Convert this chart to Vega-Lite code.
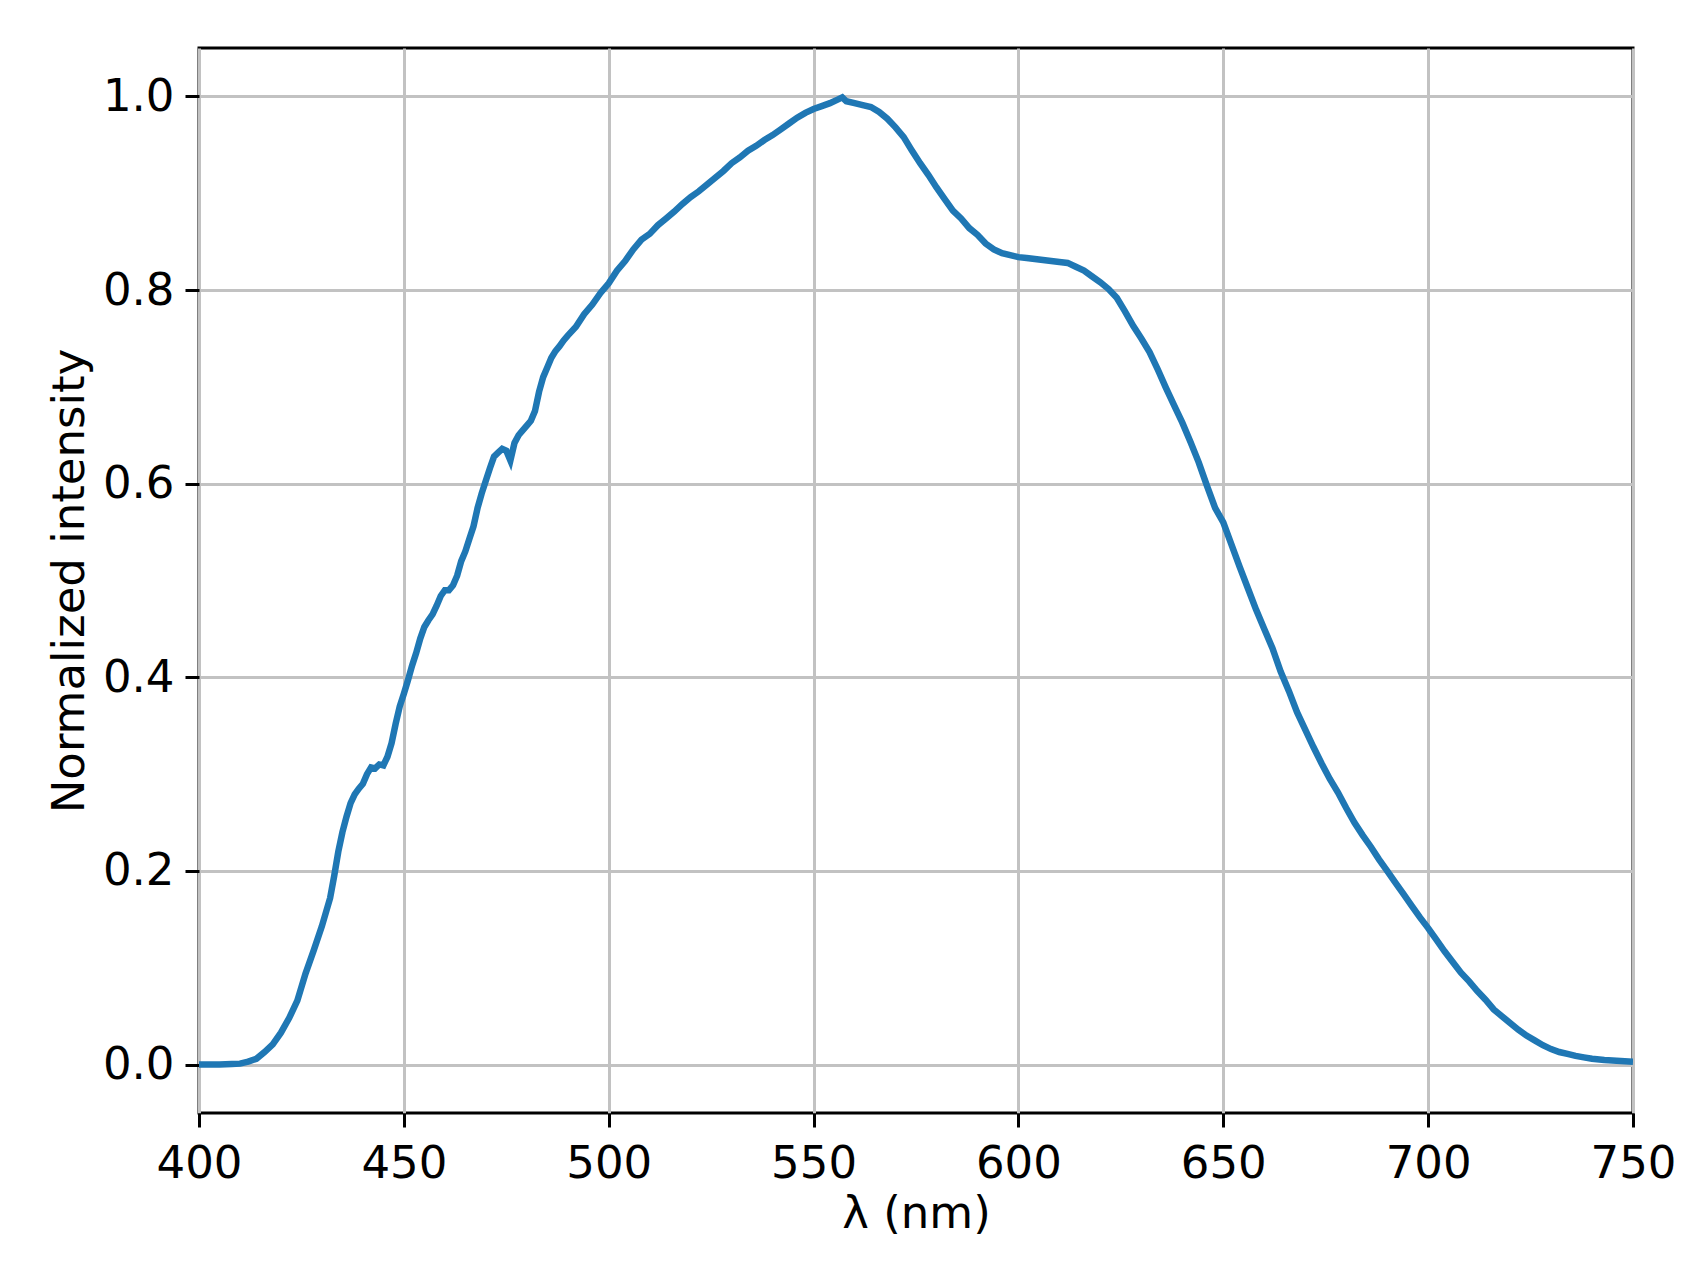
{
  "$schema": "https://vega.github.io/schema/vega-lite/v6.json",
  "width": 1434,
  "height": 1065,
  "autosize": {"type": "none"},
  "padding": {"left": 199, "top": 48, "right": 70, "bottom": 173},
  "background": "white",
  "data": {
    "values": [
      {"wl": 400, "I": 0.0}, {"wl": 405, "I": 0.0}, {"wl": 408, "I": 0.0005}, {"wl": 410, "I": 0.001},
      {"wl": 412, "I": 0.003}, {"wl": 414, "I": 0.006}, {"wl": 416, "I": 0.013}, {"wl": 418, "I": 0.021},
      {"wl": 420, "I": 0.033}, {"wl": 422, "I": 0.048}, {"wl": 424, "I": 0.066}, {"wl": 426, "I": 0.094},
      {"wl": 428, "I": 0.118}, {"wl": 430, "I": 0.143}, {"wl": 432, "I": 0.172}, {"wl": 433, "I": 0.195},
      {"wl": 434, "I": 0.22}, {"wl": 435, "I": 0.24}, {"wl": 436, "I": 0.256}, {"wl": 437, "I": 0.27},
      {"wl": 438, "I": 0.279}, {"wl": 439, "I": 0.285}, {"wl": 440, "I": 0.29}, {"wl": 441, "I": 0.3},
      {"wl": 442, "I": 0.307}, {"wl": 443, "I": 0.306}, {"wl": 444, "I": 0.31}, {"wl": 445, "I": 0.309},
      {"wl": 446, "I": 0.318}, {"wl": 447, "I": 0.332}, {"wl": 448, "I": 0.352}, {"wl": 449, "I": 0.37},
      {"wl": 450, "I": 0.383}, {"wl": 451, "I": 0.397}, {"wl": 452, "I": 0.412}, {"wl": 453, "I": 0.425},
      {"wl": 454, "I": 0.44}, {"wl": 455, "I": 0.452}, {"wl": 456, "I": 0.459}, {"wl": 457, "I": 0.465},
      {"wl": 458, "I": 0.474}, {"wl": 459, "I": 0.484}, {"wl": 460, "I": 0.49}, {"wl": 461, "I": 0.49},
      {"wl": 462, "I": 0.495}, {"wl": 463, "I": 0.505}, {"wl": 464, "I": 0.52}, {"wl": 465, "I": 0.53},
      {"wl": 466, "I": 0.543}, {"wl": 467, "I": 0.556}, {"wl": 468, "I": 0.575}, {"wl": 469, "I": 0.59},
      {"wl": 470, "I": 0.603}, {"wl": 471, "I": 0.616}, {"wl": 472, "I": 0.628}, {"wl": 473, "I": 0.632},
      {"wl": 474, "I": 0.636}, {"wl": 475, "I": 0.634}, {"wl": 476, "I": 0.624}, {"wl": 477, "I": 0.642},
      {"wl": 478, "I": 0.65}, {"wl": 479, "I": 0.655}, {"wl": 480, "I": 0.66}, {"wl": 481, "I": 0.665},
      {"wl": 482, "I": 0.675}, {"wl": 483, "I": 0.695}, {"wl": 484, "I": 0.71}, {"wl": 485, "I": 0.72},
      {"wl": 486, "I": 0.73}, {"wl": 487, "I": 0.737}, {"wl": 488, "I": 0.742}, {"wl": 489, "I": 0.748},
      {"wl": 490, "I": 0.753}, {"wl": 492, "I": 0.762}, {"wl": 494, "I": 0.775}, {"wl": 496, "I": 0.785},
      {"wl": 498, "I": 0.797}, {"wl": 500, "I": 0.807}, {"wl": 502, "I": 0.82}, {"wl": 504, "I": 0.83},
      {"wl": 506, "I": 0.842}, {"wl": 508, "I": 0.852}, {"wl": 510, "I": 0.858}, {"wl": 512, "I": 0.867},
      {"wl": 514, "I": 0.874}, {"wl": 516, "I": 0.881}, {"wl": 518, "I": 0.889}, {"wl": 520, "I": 0.896},
      {"wl": 522, "I": 0.902}, {"wl": 524, "I": 0.909}, {"wl": 526, "I": 0.916}, {"wl": 528, "I": 0.923},
      {"wl": 530, "I": 0.931}, {"wl": 532, "I": 0.937}, {"wl": 534, "I": 0.944}, {"wl": 536, "I": 0.949},
      {"wl": 538, "I": 0.955}, {"wl": 540, "I": 0.96}, {"wl": 542, "I": 0.966}, {"wl": 544, "I": 0.972},
      {"wl": 546, "I": 0.978}, {"wl": 548, "I": 0.983}, {"wl": 550, "I": 0.987}, {"wl": 552, "I": 0.99},
      {"wl": 554, "I": 0.993}, {"wl": 556, "I": 0.997}, {"wl": 557, "I": 0.999}, {"wl": 558, "I": 0.995},
      {"wl": 560, "I": 0.993}, {"wl": 562, "I": 0.991}, {"wl": 564, "I": 0.989}, {"wl": 566, "I": 0.984},
      {"wl": 568, "I": 0.977}, {"wl": 570, "I": 0.968}, {"wl": 572, "I": 0.958}, {"wl": 574, "I": 0.944},
      {"wl": 576, "I": 0.931}, {"wl": 578, "I": 0.919}, {"wl": 580, "I": 0.906}, {"wl": 582, "I": 0.894},
      {"wl": 584, "I": 0.882}, {"wl": 586, "I": 0.874}, {"wl": 588, "I": 0.864}, {"wl": 590, "I": 0.857},
      {"wl": 592, "I": 0.848}, {"wl": 594, "I": 0.842}, {"wl": 596, "I": 0.838}, {"wl": 598, "I": 0.836},
      {"wl": 600, "I": 0.834}, {"wl": 602, "I": 0.833}, {"wl": 604, "I": 0.832}, {"wl": 606, "I": 0.831},
      {"wl": 608, "I": 0.83}, {"wl": 610, "I": 0.829}, {"wl": 612, "I": 0.828}, {"wl": 614, "I": 0.824},
      {"wl": 616, "I": 0.82}, {"wl": 618, "I": 0.814}, {"wl": 620, "I": 0.808}, {"wl": 622, "I": 0.801},
      {"wl": 624, "I": 0.792}, {"wl": 626, "I": 0.778}, {"wl": 628, "I": 0.763}, {"wl": 630, "I": 0.75},
      {"wl": 632, "I": 0.736}, {"wl": 634, "I": 0.718}, {"wl": 636, "I": 0.699}, {"wl": 638, "I": 0.681},
      {"wl": 640, "I": 0.663}, {"wl": 642, "I": 0.643}, {"wl": 644, "I": 0.622}, {"wl": 646, "I": 0.598},
      {"wl": 648, "I": 0.575}, {"wl": 650, "I": 0.56}, {"wl": 652, "I": 0.537}, {"wl": 654, "I": 0.514},
      {"wl": 656, "I": 0.492}, {"wl": 658, "I": 0.47}, {"wl": 660, "I": 0.45}, {"wl": 662, "I": 0.43},
      {"wl": 664, "I": 0.406}, {"wl": 666, "I": 0.386}, {"wl": 668, "I": 0.364}, {"wl": 670, "I": 0.346},
      {"wl": 672, "I": 0.328}, {"wl": 674, "I": 0.311}, {"wl": 676, "I": 0.295}, {"wl": 678, "I": 0.281},
      {"wl": 680, "I": 0.265}, {"wl": 682, "I": 0.25}, {"wl": 684, "I": 0.237}, {"wl": 686, "I": 0.225},
      {"wl": 688, "I": 0.212}, {"wl": 690, "I": 0.2}, {"wl": 692, "I": 0.188}, {"wl": 694, "I": 0.176},
      {"wl": 696, "I": 0.164}, {"wl": 698, "I": 0.152}, {"wl": 700, "I": 0.141}, {"wl": 702, "I": 0.129},
      {"wl": 704, "I": 0.117}, {"wl": 706, "I": 0.106}, {"wl": 708, "I": 0.095}, {"wl": 710, "I": 0.086},
      {"wl": 712, "I": 0.076}, {"wl": 714, "I": 0.067}, {"wl": 716, "I": 0.057}, {"wl": 718, "I": 0.05},
      {"wl": 720, "I": 0.043}, {"wl": 722, "I": 0.036}, {"wl": 724, "I": 0.03}, {"wl": 726, "I": 0.025},
      {"wl": 728, "I": 0.02}, {"wl": 730, "I": 0.016}, {"wl": 732, "I": 0.013}, {"wl": 734, "I": 0.011},
      {"wl": 736, "I": 0.009}, {"wl": 738, "I": 0.0075}, {"wl": 740, "I": 0.006}, {"wl": 743, "I": 0.0048},
      {"wl": 746, "I": 0.004}, {"wl": 750, "I": 0.003}
    ]
  },
  "mark": {"type": "line", "color": "#1f77b4", "strokeWidth": 6.5, "clip": true},
  "encoding": {
    "x": {
      "field": "wl", "type": "quantitative",
      "scale": {"domain": [400, 750], "nice": false, "zero": false},
      "axis": {"values": [400, 450, 500, 550, 600, 650, 700, 750], "format": "d", "title": "λ (nm)", "titlePadding": 5}
    },
    "y": {
      "field": "I", "type": "quantitative",
      "scale": {"domain": [-0.05, 1.05], "nice": false, "zero": false},
      "axis": {"values": [0, 0.2, 0.4, 0.6, 0.8, 1.0], "format": ".1f", "title": "Normalized intensity", "titlePadding": 10, "labelPadding": 11}
    }
  },
  "config": {
    "view": {"stroke": "black", "strokeWidth": 3},
    "axis": {
      "domain": false, "labelFlush": false,
      "grid": true, "gridColor": "#c2c2c2", "gridWidth": 3,
      "ticks": true, "tickColor": "black", "tickWidth": 3, "tickSize": 14,
      "labelFont": "DejaVu Sans", "labelFontSize": 45, "labelColor": "black", "labelPadding": 14,
      "titleFont": "DejaVu Sans", "titleFontSize": 45, "titleFontWeight": "normal", "titleColor": "black"
    }
  }
}
